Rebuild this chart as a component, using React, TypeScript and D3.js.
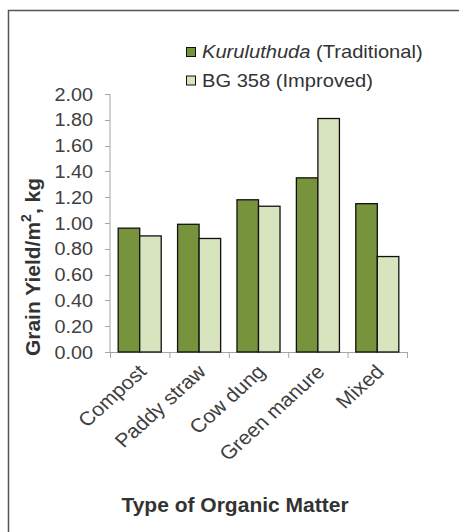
import React from "react";
import * as d3 from "d3";

const categories = ["Compost", "Paddy straw", "Cow dung", "Green manure", "Mixed"];
const traditional = [0.96, 0.99, 1.18, 1.35, 1.15];
const improved = [0.9, 0.88, 1.13, 1.81, 0.74];
const yTicks = [0, 0.2, 0.4, 0.6, 0.8, 1.0, 1.2, 1.4, 1.6, 1.8, 2.0];
const seriesNames = ["Traditional", "Improved"];

const W = 459;
const H = 532;
const colors = ["#77933c", "#d7e4bd"];
const font = "Liberation Sans, Arial, sans-serif";

export default function App() {
  const x = d3.scaleBand<string>().domain(categories).range([110, 407]).paddingInner(0).paddingOuter(0);
  const inner = d3.scaleBand<string>().domain(seriesNames).range([0, x.bandwidth()]).paddingInner(0).paddingOuter(0.38);
  const y = d3.scaleLinear().domain([0, 2]).range([352, 94]);
  const values = [traditional, improved];

  return (
    <svg width={W} height={H} style={{ position: "absolute", left: 0, top: 0 }} fontFamily={font}>
      <rect x={0} y={0} width={W} height={H} fill="#fff" />
      <path d={`M8.5,${H} V10.5 H${W}`} fill="none" stroke="#555" strokeWidth={1.5} />
      {/* axes */}
      <line x1={110} x2={110} y1={y(2)} y2={y(0)} stroke="#a6a6a6" strokeWidth={1} />
      <line x1={105} x2={407} y1={y(0) + 0.5} y2={y(0) + 0.5} stroke="#a6a6a6" strokeWidth={1} />
      {yTicks.map((t) => (
        <g key={t}>
          <line x1={105} x2={110} y1={Math.round(y(t)) + 0.5} y2={Math.round(y(t)) + 0.5} stroke="#a6a6a6" />
          <text transform={`translate(93,${y(t) + 6.5}) scale(1.07,1)`} textAnchor="end" fontSize={18.5} fill="#404040">
            {t.toFixed(2)}
          </text>
        </g>
      ))}
      {categories.map((c, i) => (
        <line key={"xt" + i} x1={x(c)! + 0.5} x2={x(c)! + 0.5} y1={y(0)} y2={y(0) + 6} stroke="#a6a6a6" />
      ))}
      <line x1={407.5} x2={407.5} y1={y(0)} y2={y(0) + 6} stroke="#a6a6a6" />
      {/* bars */}
      {categories.map((c, i) =>
        values.map((vals, s) => (
          <rect
            key={c + s}
            x={x(c)! + inner(seriesNames[s])!}
            y={y(vals[i])}
            width={inner.bandwidth()}
            height={y(0) - y(vals[i])}
            fill={colors[s]}
            stroke="#111"
            strokeWidth={1.3}
          />
        ))
      )}
      {/* x labels */}
      {categories.map((c) => {
        const cx = x(c)! + x.bandwidth() / 2 + 8;
        const cy = y(0) + 21;
        return (
          <text
            key={"xl" + c}
            transform={`translate(${cx},${cy}) scale(1.1,1) rotate(-45)`}
            textAnchor="end"
            fontSize={19.5}
            fill="#404040"
          >
            {c}
          </text>
        );
      })}
      {/* axis titles */}
      <text x={235} y={512} textAnchor="middle" fontSize={21} fontWeight="bold" fill="#333">
        Type of Organic Matter
      </text>
      <text transform="translate(40,267) rotate(-90)" textAnchor="middle" fontSize={21} fontWeight="bold" fill="#333">
        Grain Yield/m<tspan fontSize={14} dy={-9}>2</tspan>
        <tspan dy={9}>, kg</tspan>
      </text>
      {/* legend */}
      <rect x={186.5} y={47.5} width={9} height={9} fill={colors[0]} stroke="#111" />
      <text transform="translate(202,58) scale(1.15,1)" fontSize={17.5} fill="#333">
        <tspan fontStyle="italic">Kuruluthuda</tspan> (Traditional)
      </text>
      <rect x={186.5} y={76} width={9} height={9} fill={colors[1]} stroke="#111" />
      <text transform="translate(202,86.5) scale(1.15,1)" fontSize={17.5} fill="#333">
        BG 358 (Improved)
      </text>
    </svg>
  );
}
